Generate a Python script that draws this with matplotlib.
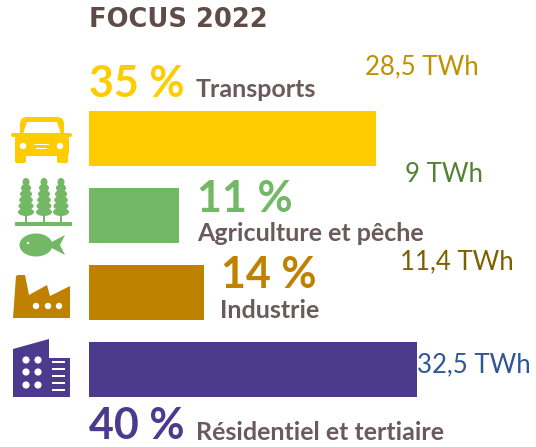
import matplotlib
matplotlib.use('Agg')
import matplotlib.pyplot as plt
from matplotlib.patches import Circle, Ellipse, FancyBboxPatch, Polygon, Rectangle

sectors = ['Transports', 'Agriculture et pêche', 'Industrie', 'Résidentiel et tertiaire']
shares = [35, 11, 14, 40]
share_labels = ['35 %', '11 %', '14 %', '40 %']
twh_labels = ['28,5 TWh', '9 TWh', '11,4 TWh', '32,5 TWh']
bar_colors = ['#FFCC00', '#72B865', '#BE8200', '#4C3A8C']
twh_colors = ['#BF9000', '#548235', '#7F6000', '#2F5597']

W, H = 536, 447
fig = plt.figure(figsize=(W / 100, H / 100), dpi=100)

# bars, 8.2 px per percent, 77 px between rows
ax = fig.add_axes([89 / W, 1 - 408 / H, (W - 89) / W, 331 / H])
ax.barh(range(4), shares, height=0.71, color=bar_colors)
ax.set_xlim(0, (W - 89) / 8.2)
ax.set_ylim(3.5, -0.8)
ax.axis('off')

# overlay in pixel coords for text and icons
ov = fig.add_axes([0, 0, 1, 1])
ov.set_xlim(0, W)
ov.set_ylim(H, 0)
ov.axis('off')

dark = '#5F4B48'
grey = '#6B5A5C'
ov.text(89, 20, 'FOCUS 2022', fontsize=18.5, fontweight='bold', family='DejaVu Sans',
        color=dark, va='center')

pct_size = 31
lab_size = 18
ov.text(89, 97, share_labels[0], fontsize=pct_size, fontweight='bold', family='Lato', color=bar_colors[0])
ov.text(196, 97, sectors[0], fontsize=lab_size, fontweight='bold', family='Lato', color=grey)
ov.text(197, 212, share_labels[1], fontsize=pct_size, fontweight='bold', family='Lato', color=bar_colors[1])
ov.text(197, 241, sectors[1], fontsize=lab_size, fontweight='bold', family='Lato', color=grey)
ov.text(221, 288, share_labels[2], fontsize=pct_size, fontweight='bold', family='Lato', color=bar_colors[2])
ov.text(220, 318, sectors[2], fontsize=lab_size, fontweight='bold', family='Lato', color=grey)
ov.text(89, 439, share_labels[3], fontsize=pct_size, fontweight='bold', family='Lato', color=bar_colors[3])
ov.text(196, 440, sectors[3], fontsize=lab_size, fontweight='bold', family='Lato', color=grey)

twh_pos = [(365, 67), (405, 174), (400, 262), (417, 365)]
for (x, y), t, c in zip(twh_pos, twh_labels, twh_colors):
    ov.text(x, y, t, fontsize=18.5, family='Lato', color=c, va='center')

# car
c = bar_colors[0]
ov.add_patch(FancyBboxPatch((15, 135), 54, 21, boxstyle='round,pad=0,rounding_size=4', fc=c, ec='none'))
ov.add_patch(FancyBboxPatch((20, 117), 44, 24, boxstyle='round,pad=0,rounding_size=7', fc=c, ec='none'))
ov.add_patch(Polygon([(23, 134), (27, 122), (57, 122), (61, 134), (42, 136)], fc='white', ec='none'))
ov.add_patch(FancyBboxPatch((11, 133), 61, 4, boxstyle='round,pad=0,rounding_size=2', fc=c, ec='none'))
ov.add_patch(FancyBboxPatch((15, 152), 11, 11, boxstyle='round,pad=0,rounding_size=2', fc=c, ec='none'))
ov.add_patch(FancyBboxPatch((57, 152), 11, 11, boxstyle='round,pad=0,rounding_size=2', fc=c, ec='none'))
ov.add_patch(Circle((23, 146), 3.2, fc='white', ec='none'))
ov.add_patch(Circle((60, 146), 3.2, fc='white', ec='none'))
ov.add_patch(Rectangle((34, 144), 15, 1.3, fc='white', ec='none'))
ov.add_patch(Rectangle((36, 148), 11, 1.3, fc='white', ec='none'))

# trees and fish
g = bar_colors[1]
for tx in (26, 44, 61):
    ov.add_patch(Rectangle((tx - 1, 185), 2, 38, fc=g, ec='none'))
    for ty, rx in zip((182, 188, 194, 200, 206, 212), (3.5, 5, 6, 6.8, 7.5, 8)):
        ov.add_patch(Ellipse((tx, ty), rx * 2, 8, fc=g, ec='none'))
ov.add_patch(Rectangle((15, 222), 57, 3.5, fc=g, ec='none'))
ov.add_patch(Ellipse((36, 245), 33, 23, fc=g, ec='none'))
ov.add_patch(Polygon([(46, 245), (65, 235), (60, 245), (65, 255)], fc=g, ec='none'))
ov.add_patch(Circle((28, 243), 1.2, fc='white', ec='none'))

# factory
f = bar_colors[2]
ov.add_patch(Polygon([(13, 318), (16, 276), (18, 275), (25, 275), (29, 295), (47, 285), (50, 296), (70, 286), (70, 318)],
                     fc=f, ec='none'))
for dx in (36, 48, 59):
    ov.add_patch(Circle((dx, 306), 3.2, fc='white', ec='none'))

# building
b = bar_colors[3]
ov.add_patch(Polygon([(13, 349), (49, 339), (49, 358), (70, 358), (70, 397), (13, 397)], fc=b, ec='none'))
for bx in (26, 38):
    for by in (360, 372, 385):
        ov.add_patch(Circle((bx, by), 3.6, fc='white', ec='none'))
for by in (362, 369, 376, 383, 390):
    ov.add_patch(Rectangle((52, by - 1), 13, 2.2, fc='white', ec='none'))

fig.savefig('out.png', dpi=100)
